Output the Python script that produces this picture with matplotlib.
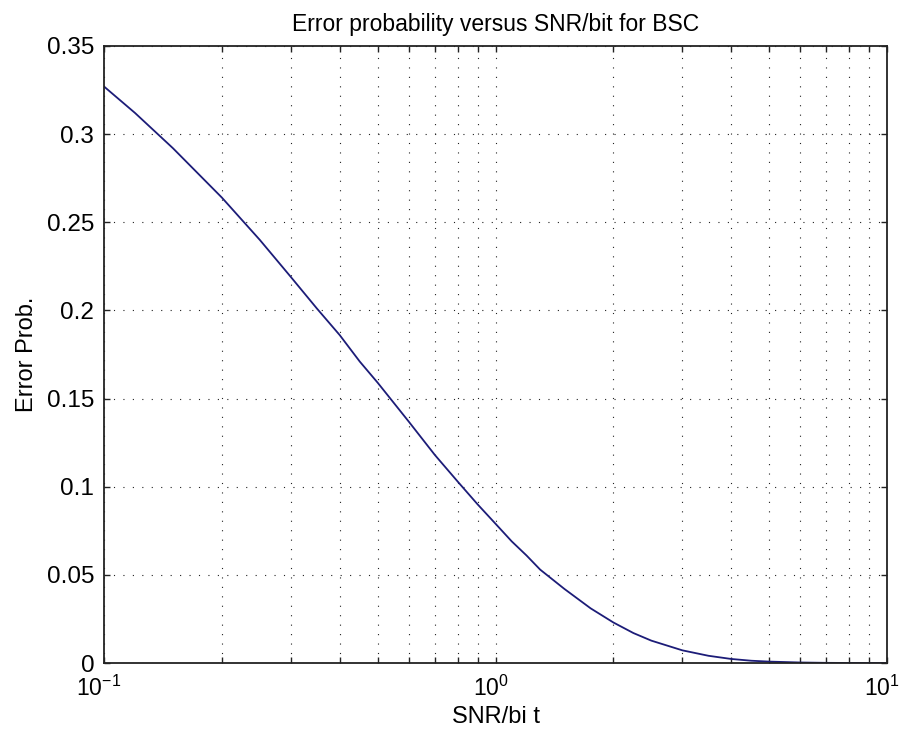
import matplotlib
matplotlib.use('Agg')
import matplotlib.pyplot as plt
import matplotlib.transforms as mtransforms
from matplotlib.ticker import LogLocator, LogFormatterMathtext, MultipleLocator, NullFormatter

# values
snr_per_bit = [0.1, 0.12, 0.15, 0.2, 0.25, 0.3, 0.35, 0.4, 0.45, 0.5, 0.6, 0.7, 0.8, 0.9,
               1.0, 1.1, 1.2, 1.3, 1.5, 1.75, 2.0, 2.25, 2.5, 3.0, 3.5, 4.0, 4.5, 5.0,
               6.0, 7.0, 8.0, 10.0]
error_prob = [0.327, 0.312, 0.292, 0.264, 0.240, 0.219, 0.201, 0.186, 0.171, 0.159, 0.137,
              0.118, 0.103, 0.090, 0.079, 0.069, 0.061, 0.053, 0.042, 0.031, 0.023, 0.017,
              0.0127, 0.0072, 0.0041, 0.0023, 0.0013, 0.0008, 0.0003, 0.0001, 0.00003, 0.0]

title = 'Error probability versus SNR/bit for BSC'
xlabel = 'SNR/bi t'
ylabel = 'Error Prob.'

plt.rcParams['font.family'] = ['Liberation Sans', 'DejaVu Sans']
plt.rcParams['mathtext.fontset'] = 'custom'
plt.rcParams['mathtext.rm'] = 'Liberation Sans'
plt.rcParams['axes.unicode_minus'] = False

fig = plt.figure(figsize=(9.03, 7.38), dpi=100)
fig.patch.set_facecolor('white')
ax = fig.add_axes([0.1152, 0.1016, 0.8671, 0.8361])

ax.semilogx(snr_per_bit, error_prob, color='#1c1c78', linewidth=1.3)

ax.set_xlim(0.1, 10)
ax.set_ylim(0, 0.35)
ax.xaxis.set_major_locator(LogLocator(base=10, numticks=10))
ax.xaxis.set_major_formatter(LogFormatterMathtext())
ax.xaxis.set_minor_locator(LogLocator(base=10, subs=range(2, 10), numticks=10))
ax.xaxis.set_minor_formatter(NullFormatter())
ax.yaxis.set_major_locator(MultipleLocator(0.05))
ax.set_yticklabels([f'{v:g}' for v in ax.get_yticks()])

grid_style = dict(color='#222222', linestyle=(0, (1, 7.5)), linewidth=0.8)
ax.grid(True, which='major', axis='both', **grid_style)
ax.grid(True, which='minor', axis='x', **grid_style)

ax.tick_params(which='both', direction='in', top=True, right=True,
               length=4.5, width=1.0, labelsize=17.5, color='#222222')
ax.tick_params(axis='x', pad=9, labelsize=16.5)
ax.tick_params(axis='y', pad=7)
for s in ax.spines.values():
    s.set_linewidth(1.3)
    s.set_color('#222222')

# nudge x tick labels left a bit, like the reference
shift = mtransforms.ScaledTranslation(-5 / 100, 0, fig.dpi_scale_trans)
for lbl in ax.get_xticklabels():
    lbl.set_transform(lbl.get_transform() + shift)

ax.set_title(title, fontsize=16.5, pad=11)
ax.set_xlabel(xlabel, fontsize=17, labelpad=4)
ax.set_ylabel(ylabel, fontsize=17, labelpad=6)

plt.savefig('out.png', dpi=100, facecolor='white')
plt.close()
